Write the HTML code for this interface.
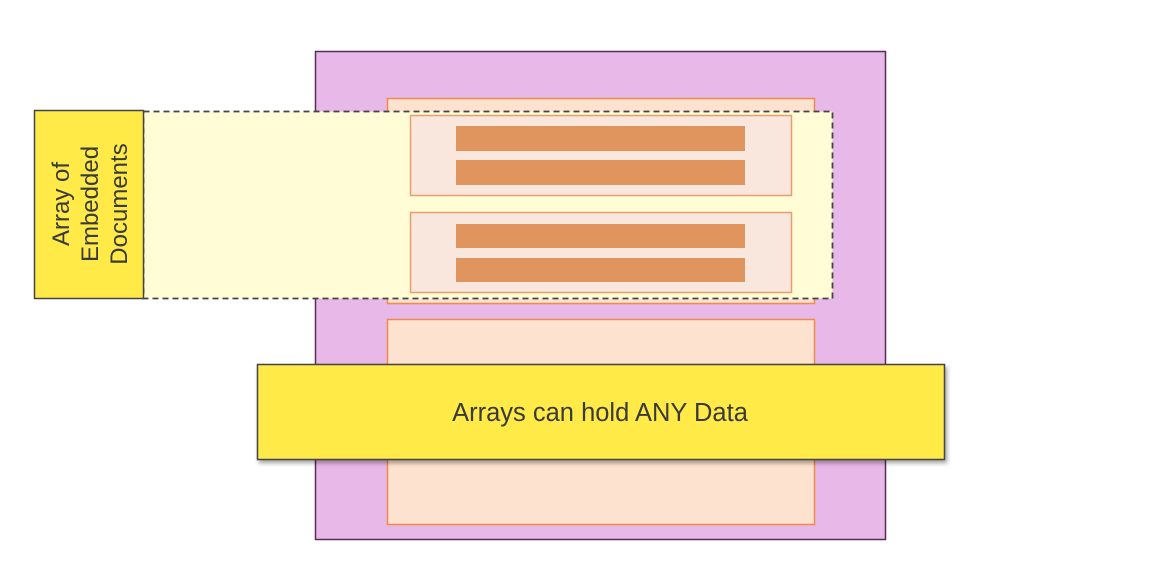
<!DOCTYPE html>
<html><head><style>
html,body{margin:0;padding:0;background:#fff;width:1156px;height:581px;overflow:hidden}
svg{display:block}
text{font-family:"Liberation Sans",sans-serif;fill:#3a3a3a}
</style></head><body>
<svg width="1156" height="581" xmlns="http://www.w3.org/2000/svg">
<defs><filter id="sh" x="-5%" y="-5%" width="110%" height="120%"><feDropShadow dx="2" dy="3" stdDeviation="2" flood-color="#000" flood-opacity="0.35"/></filter></defs>
<rect x="315.5" y="51.5" width="570" height="488" fill="#e8b8e8" stroke="#5a2a5a" stroke-width="1.5"/>
<rect x="387.5" y="98.5" width="427" height="205" fill="#fde2cf" stroke="#f08a4b" stroke-width="1.5"/>
<rect x="387.5" y="319.5" width="427" height="205" fill="#fde2cf" stroke="#f08a4b" stroke-width="1.5"/>
<rect x="143.5" y="111.5" width="689" height="187" fill="#fffcd6" stroke="#444" stroke-width="1.8" stroke-dasharray="6,4"/>
<rect x="410.5" y="115.5" width="381" height="80" fill="#f9e6dc" stroke="#e4a070" stroke-width="1.5"/>
<rect x="410.5" y="212.5" width="381" height="80" fill="#f9e6dc" stroke="#e4a070" stroke-width="1.5"/>
<rect x="456" y="126" width="289" height="25" fill="#e0955e"/>
<rect x="456" y="160" width="289" height="25" fill="#e0955e"/>
<rect x="456" y="224" width="289" height="24" fill="#e0955e"/>
<rect x="456" y="258" width="289" height="24" fill="#e0955e"/>
<rect x="34.5" y="110.5" width="109" height="188" fill="#ffea47" stroke="#444" stroke-width="1.5"/>
<g transform="translate(89,204) rotate(-90)">
<text x="0" y="-20" text-anchor="middle" font-size="24">Array of</text>
<text x="0" y="9" text-anchor="middle" font-size="24">Embedded</text>
<text x="0" y="38" text-anchor="middle" font-size="24">Documents</text>
</g>
<rect x="257.5" y="364.5" width="687" height="95" fill="#ffea47" stroke="#444" stroke-width="1.5" filter="url(#sh)"/>
<text x="600" y="421" text-anchor="middle" font-size="25.5">Arrays can hold ANY Data</text>
</svg>
</body></html>
